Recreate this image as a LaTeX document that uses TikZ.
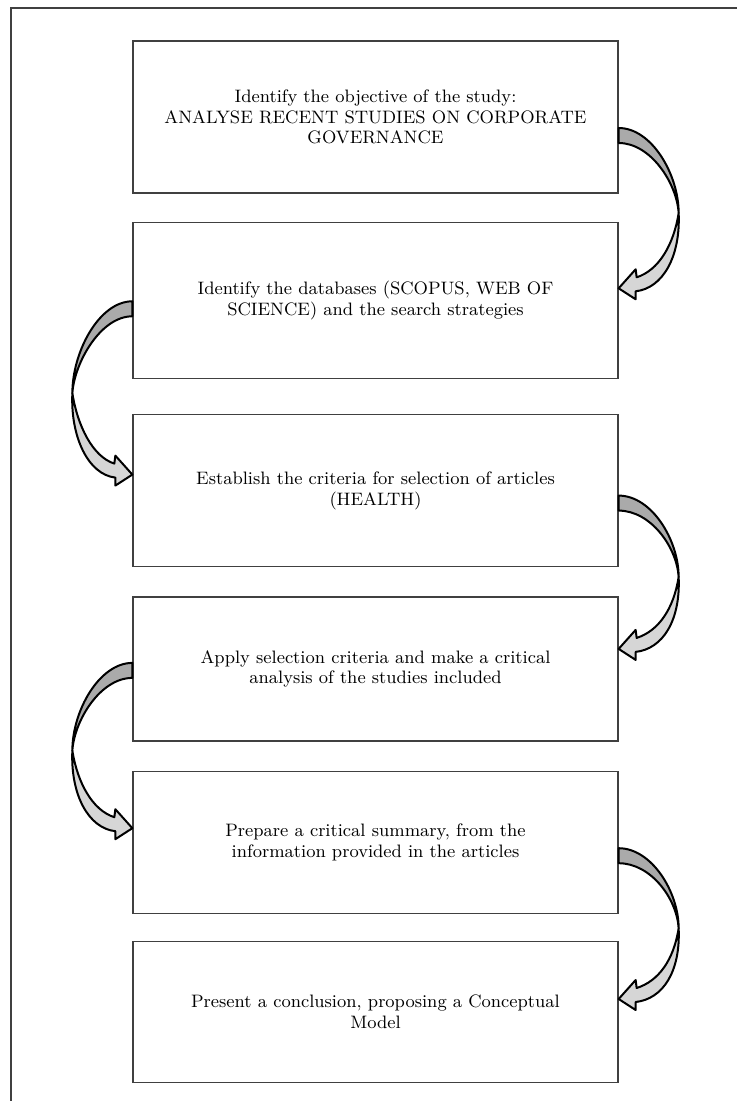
\documentclass[tikz,border=0pt]{standalone}
\usepackage{tikz}
\usetikzlibrary{positioning,calc}

\tikzset{
  stepbox/.style={draw=black!75, line width=0.65pt, minimum width=242.5pt, align=center, font=\fontsize{9}{10.3}\selectfont},
  darkband/.style={draw=black, line width=1pt, line join=round, fill=gray!67},
  lightband/.style={draw=black, line width=1pt, line join=round, fill=gray!32},
}

% curved block arrow: #1 tail top, #2 tip, #3 side (1 right, -1 left)
\newcommand{\bendarrow}[3]{%
  \filldraw[lightband] let \p1=(#1), \p2=(#2), \n1={\y1-\y2} in
    (\x1+#3*30pt, \y1-0.53*\n1)
    .. controls (\x1+#3*31pt, \y1-0.53*\n1-22pt) and (\x2+#3*22pt, \y2) .. (\x2+#3*8.5pt, \y2-1.5pt)
    -- (\x2+#3*8.5pt, \y2-5.5pt) -- (\p2) -- (\x2+#3*8.5pt, \y2+9.5pt) -- (\x2+#3*9pt, \y2+5.5pt)
    .. controls (\x2+#3*20pt, \y2+9pt) and (\x1+#3*27.5pt, \y1-0.53*\n1-16pt) .. (\x1+#3*30pt, \y1-0.53*\n1) -- cycle;
  \filldraw[darkband] let \p1=(#1), \p2=(#2), \n1={\y1-\y2} in
    (\p1) .. controls (\x1+#3*16.5pt, \y1) and (\x1+#3*30pt, \y1-0.29*\n1) .. (\x1+#3*30pt, \y1-0.53*\n1)
    .. controls (\x1+#3*29pt, \y1-0.53*\n1+15pt) and (\x1+#3*16pt, \y1-7.5pt) .. (\x1, \y1-7.5pt) -- cycle;
}

\begin{document}
\begin{tikzpicture}[x=0.5pt,y=-0.5pt]
	\useasboundingbox (0,0) rectangle (737,1101);
	\draw[black!75, line width=0.65pt] (11,1101) -- (11,8) -- (737,8);

	% Define nodes
	\node[stepbox, minimum height=76pt] (obj) at (375.5,117) {Identify the objective of the study:\\ANALYSE RECENT STUDIES ON CORPORATE\\GOVERNANCE};
	\node[stepbox, below=14pt of obj, minimum height=78pt] (db) {Identify the databases (SCOPUS, WEB OF\\SCIENCE) and the search strategies};
	\node[stepbox, below=17.5pt of db, minimum height=76pt] (crit) {Establish the criteria for selection of articles\\(HEALTH)};
	\node[stepbox, below=14.5pt of crit, minimum height=72pt] (apply) {Apply selection criteria and make a critical\\analysis of the studies included};
	\node[stepbox, below=14.5pt of apply, minimum height=71pt] (summ) {Prepare a critical summary, from the\\information provided in the articles};
	\node[stepbox, below=13.5pt of summ, minimum height=70.5pt] (concl) {Present a conclusion, proposing a Conceptual\\Model};

	% Connect the nodes
	\coordinate (t1) at ($(obj.east)+(0,11)$);
	\coordinate (h1) at ($(db.east)+(0,-12)$);
	\coordinate (t2) at ($(db.west)+(0,1)$);
	\coordinate (h2) at ($(crit.west)+(0,-16)$);
	\coordinate (t3) at ($(crit.east)+(0,5)$);
	\coordinate (h3) at ($(apply.east)+(0,-20)$);
	\coordinate (t4) at ($(apply.west)+(0,-6)$);
	\coordinate (h4) at ($(summ.west)+(0,-14)$);
	\coordinate (t5) at ($(summ.east)+(0,6)$);
	\coordinate (h5) at ($(concl.east)+(0,-13)$);
	\bendarrow{t1}{h1}{1}
	\bendarrow{t2}{h2}{-1}
	\bendarrow{t3}{h3}{1}
	\bendarrow{t4}{h4}{-1}
	\bendarrow{t5}{h5}{1}
\end{tikzpicture}
\end{document}
